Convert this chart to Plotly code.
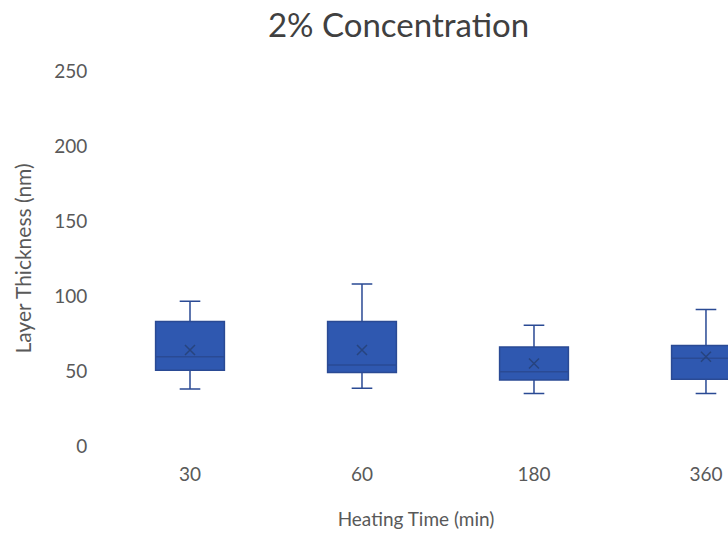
import plotly.graph_objects as go

# Heating times (categories) and box statistics for layer thickness (nm)
heating_time = ["30", "60", "180", "360"]
lower_whisker = [38, 38.5, 35, 35]
q1 = [50.5, 49, 44, 44.5]
median = [59.5, 54, 49.5, 58.5]
q3 = [83, 83, 66, 67]
upper_whisker = [96.5, 108, 80.5, 91]
mean = [64, 64, 55, 59.5]

y_ticks = [0, 50, 100, 150, 200, 250]

fill_color = "#2f58b0"
edge_color = "#2a4a94"
text_color = "#595959"
font_family = "Lato, 'Open Sans', sans-serif"

fig = go.Figure()

fig.add_trace(go.Box(
    x=heating_time,
    q1=q1,
    median=median,
    q3=q3,
    lowerfence=lower_whisker,
    upperfence=upper_whisker,
    fillcolor=fill_color,
    line=dict(color=edge_color, width=1.5),
    width=0.4,
    whiskerwidth=0.3,
    boxpoints=False,
    showlegend=False,
    hoverinfo="skip",
))

# Mean markers drawn as crosses inside each box
fig.add_trace(go.Scatter(
    x=heating_time,
    y=mean,
    mode="markers",
    marker=dict(symbol="x-thin", size=10, line=dict(color="#27447f", width=1.5)),
    showlegend=False,
    hoverinfo="skip",
))

fig.update_layout(
    width=728,
    height=538,
    margin=dict(l=104, r=0, t=71, b=92),
    paper_bgcolor="white",
    plot_bgcolor="white",
    font=dict(family=font_family, color=text_color, size=19),
    title=dict(
        text="2% Concentration",
        x=0.472, xref="paper", xanchor="center",
        y=0.953, yanchor="middle",
        font=dict(size=33, color="#404040", family=font_family),
    ),
    xaxis=dict(
        type="category",
        range=[-0.5, 3.128],
        showgrid=False,
        zeroline=False,
        showline=False,
        ticks="outside",
        ticklen=11,
        tickcolor="rgba(0,0,0,0)",
        tickfont=dict(size=19, color=text_color),
        title=dict(text="Heating Time (min)", font=dict(size=19, color=text_color), standoff=28),
    ),
    yaxis=dict(
        range=[0, 250],
        tickvals=y_ticks,
        showgrid=False,
        zeroline=False,
        showline=False,
        ticks="outside",
        ticklen=12,
        tickcolor="rgba(0,0,0,0)",
        tickfont=dict(size=19, color=text_color),
        title=dict(text="Layer Thickness (nm)", font=dict(size=21, color=text_color), standoff=16),
    ),
)

fig.write_html("out.html")
